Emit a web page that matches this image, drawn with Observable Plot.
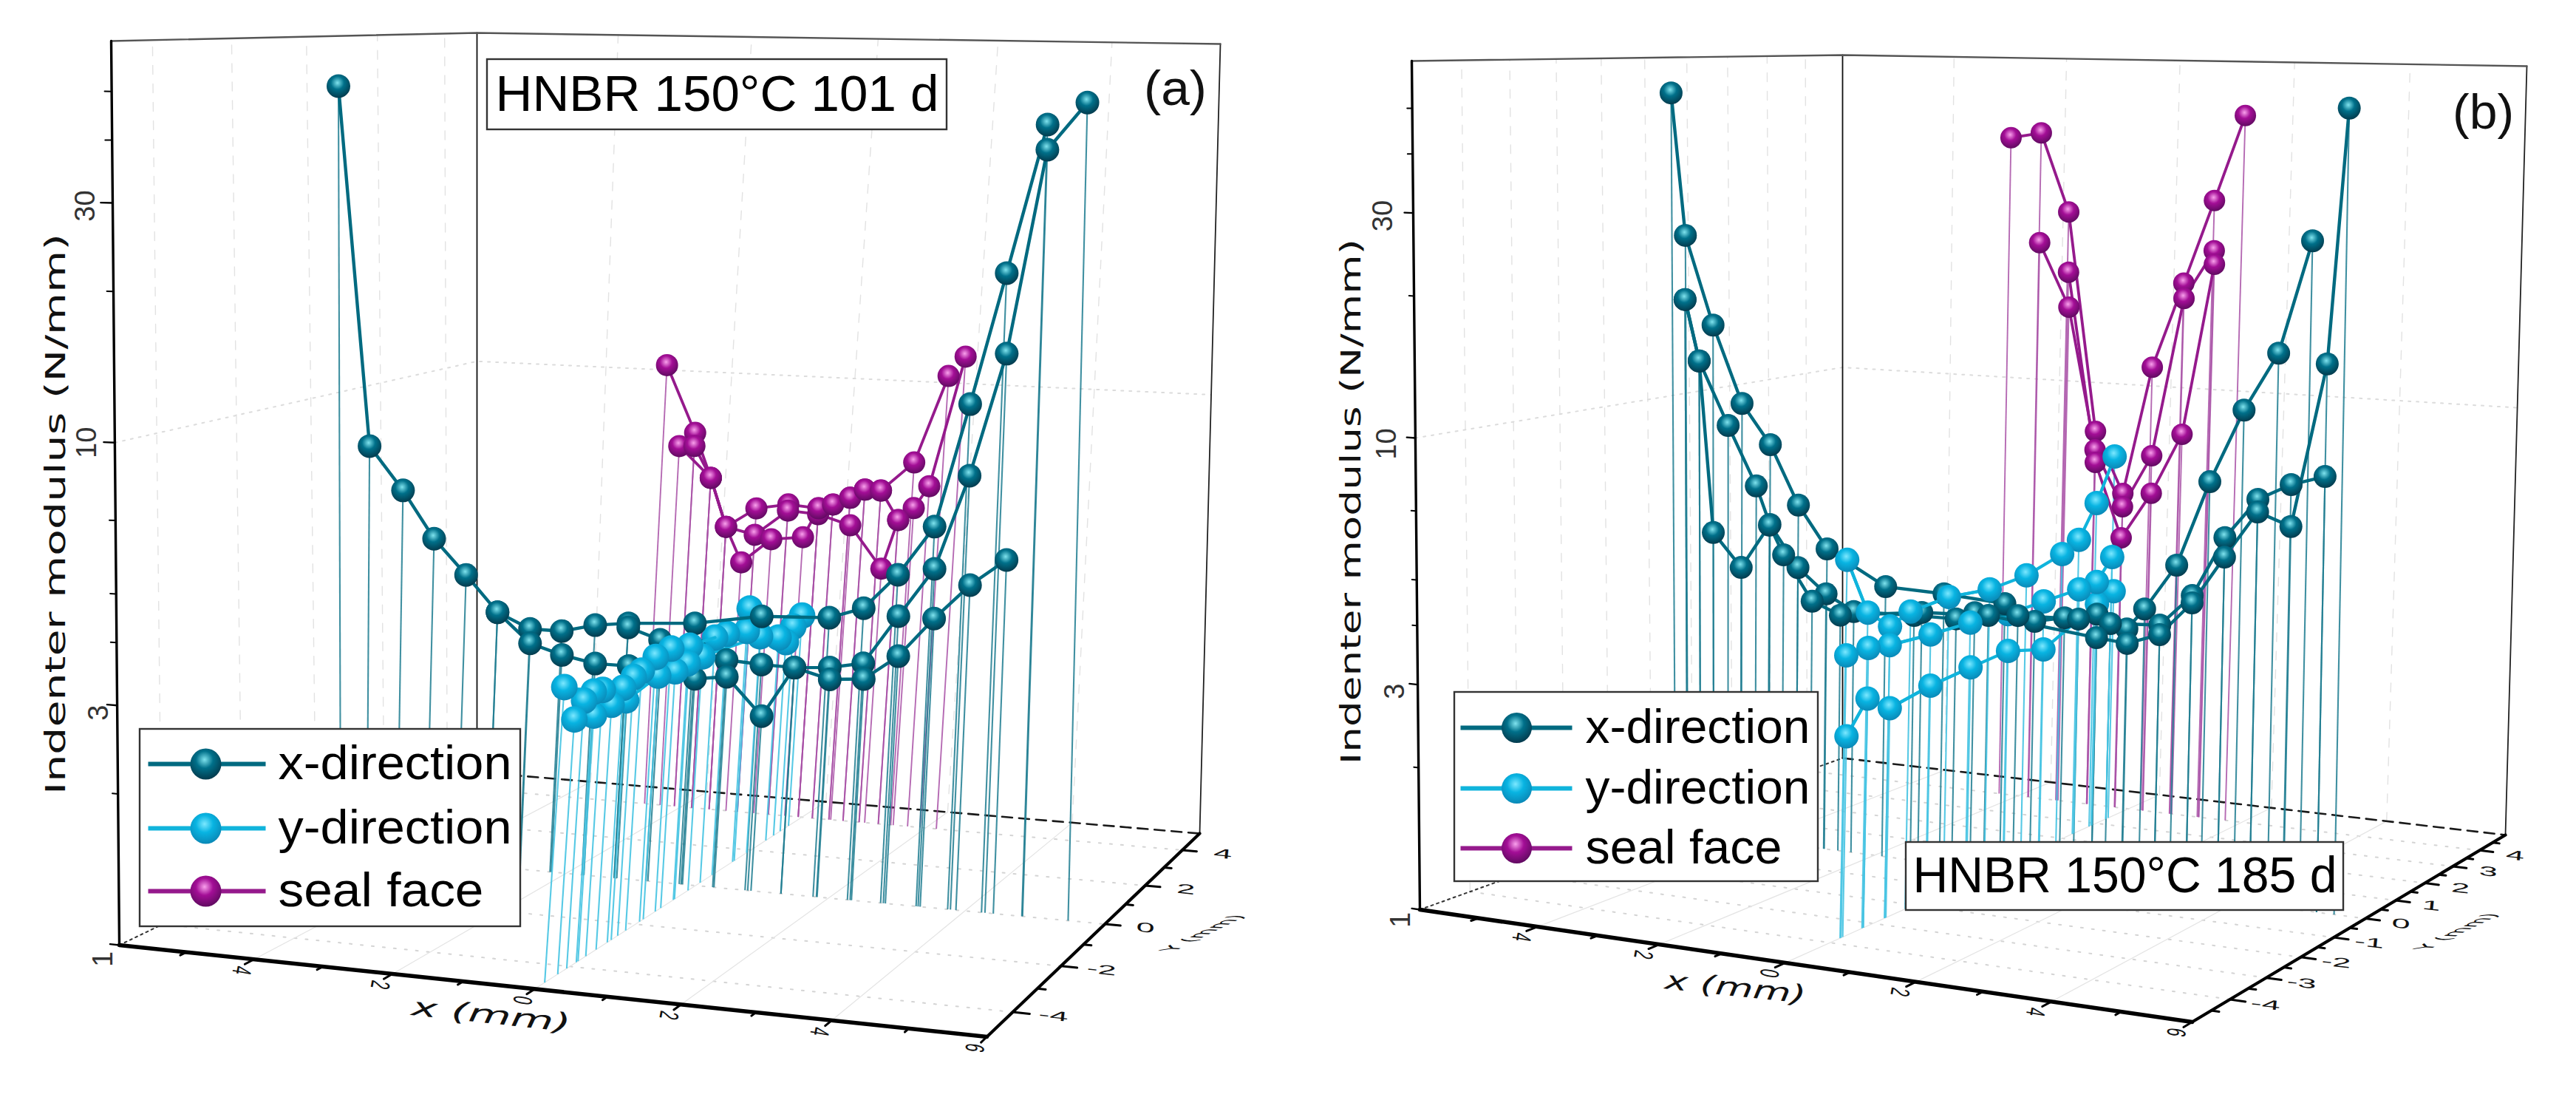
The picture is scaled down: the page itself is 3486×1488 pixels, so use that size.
<!DOCTYPE html>
<html><head><meta charset="utf-8">
<script src="https://cdn.jsdelivr.net/npm/d3@7"></script>
<script src="https://cdn.jsdelivr.net/npm/@observablehq/plot@0.6"></script>
<style>html,body{margin:0;background:#fff}#fig{display:flex;width:3486px;height:1488px}svg{display:block}</style>
</head><body><div id="fig"></div>
<script>
// ---------- data: position (mm) along the scan and indenter modulus (N/mm) ----------
const aXdir1X=[-5.60,-5.17,-4.68,-4.21,-3.72,-3.23,-2.73,-2.25,-1.75,-1.25,-0.25,0.75,1.77,2.28,2.77,3.29,3.75,4.24,4.82];
const aXdir1M=[49.1,7.94,6.40,5.06,4.26,3.57,3.32,3.32,3.46,3.53,3.61,3.82,3.88,4.11,4.88,6.22,11.3,21.3,43.5];
const aXdir2X=[-1.25,-0.76,-0.22,0.26,0.79,1.29,1.82,2.32,2.81,3.32,3.79,4.29,4.83,5.48];
const aXdir2M=[3.46,3.29,3.18,3.05,3.02,3.01,3.05,3.15,4.00,5.08,8.02,14.5,38.6,48.5];
const aXdir3X=[-3.23,-2.72,-2.23,-1.72,-1.21,-0.73,-0.20,0.28,0.84,1.29,1.83,2.34,2.84,3.35,3.87,4.41];
const aXdir3M=[3.57,3.09,2.95,2.86,2.86,2.83,2.75,2.81,2.35,3.01,2.88,2.92,3.30,4.00,4.75,5.42];
const aYdir1Y=[-4.72,-3.81,-3.53,-2.88,-2.56,-2.31,-1.87,-1.36,-0.72,0.16,0.58,1.32,1.38,2.57,3.13,3.46];
const aYdir1M=[3.70,3.40,3.36,3.24,3.33,3.37,3.49,3.51,3.41,3.35,3.32,3.21,3.58,2.86,2.92,3.03];
const aYdir2Y=[-4.35,-4.09,-3.76,-3.22,-2.76,-1.75,-1.18,-0.76,-0.26,1.84,2.87];
const aYdir2M=[3.12,3.33,3.04,3.07,3.03,3.17,3.11,3.14,3.14,3.02,2.74];
const aSeal1X=[-2.61,-2.11,-1.82,-1.53,-1.06,-0.55,-0.06,0.17,0.44,0.67,0.93,1.44,1.91];
const aSeal1M=[10.7,7.48,5.90,4.56,5.08,5.24,5.18,5.31,5.53,5.80,5.80,6.79,10.8];
const aSeal2X=[-2.35,-1.82,-1.53,-1.06,-0.55,-0.06,0.47,1.02,1.24,1.48,1.71,2.17];
const aSeal2M=[6.94,5.90,4.56,4.41,5.07,5.02,4.78,3.84,4.99,5.34,6.02,12.0];
const aSeal3X=[-2.11,-1.82,-1.53,-1.25,-0.79,-0.28,-0.06,0.17,0.44,0.67,0.93,1.24];
const aSeal3M=[6.97,5.90,4.56,3.79,4.33,4.42,5.18,5.31,5.53,5.80,5.80,4.99];

const bXdir1X=[-5.56,-5.33,-4.86,-4.36,-3.87,-3.38,-2.88,-1.87,-0.88,0.14,0.64,1.13,1.66,2.15,2.43,2.93,3.43,3.95,4.48,4.98];
const bXdir1M=[52.3,24.4,15.2,10.1,8.20,6.02,4.84,4.08,4.04,3.95,3.66,3.78,3.91,3.68,4.10,5.18,7.96,11.5,15.4,27.0];
const bXdir2X=[-5.34,-5.10,-4.60,-4.11,-3.87,-3.38,-2.89,-2.41,-1.38,-0.67,-0.36,0.36,1.36,1.88,2.68,3.19,3.69,4.20,4.72,5.25];
const bXdir2M=[17.3,12.5,8.94,6.55,5.37,4.33,3.82,3.53,3.56,3.57,3.72,3.74,3.78,3.75,3.81,4.48,6.06,7.42,8.08,8.51];
const bXdir3X=[-5.34,-5.10,-4.86,-4.37,-3.88,-3.63,-3.13,-2.64,-1.25,-0.13,1.66,2.16,2.68,3.19,3.69,4.20,4.73,5.25,5.52];
const bXdir3M=[17.3,12.5,5.02,4.22,5.35,4.60,3.65,3.44,3.63,3.69,3.47,3.42,3.63,4.32,5.50,6.97,6.57,14.8,52.1];
const bYdir1Y=[-3.77,-3.26,-2.72,-2.22,-1.26,-0.19,0.81,1.81,2.29,2.79,3.30];
const bYdir1M=[6.04,4.56,4.13,4.31,4.38,4.28,4.35,4.61,4.85,5.77,7.26];
const bYdir2Y=[-3.75,-3.23,-2.72,-1.71,-0.69,0.32,1.31,2.33,2.85,3.30];
const bYdir2M=[3.83,3.84,3.77,3.73,3.72,3.66,3.69,3.71,3.75,4.19];
const bYdir3Y=[-3.71,-3.23,-2.69,-1.69,-0.66,0.34,1.33,2.87,3.37];
const bYdir3M=[2.60,3.01,2.77,2.89,2.96,3.02,2.86,3.32,3.46];
const bSeal1X=[-2.35,-1.82,-1.31,-0.75,-0.24,0.22,0.73,1.22,1.71];
const bSeal1M=[40.4,41.7,26.9,7.97,5.71,11.6,18.6,29.5,47.2];
const bSeal2X=[-1.81,-1.27,-0.75,-0.24,0.25,0.74,1.24];
const bSeal2M=[22.5,15.8,7.19,5.30,7.11,17.1,22.4];
const bSeal3X=[-1.29,-0.74,-0.25,0.26,0.77,1.25];
const bSeal3M=[19.2,6.71,4.46,5.78,8.10,20.8];

const legendLabels=["x-direction","y-direction","seal face"];
const modulusTicks=[30,10,3,1];
const modulusMinor=[2,4,5,7,20,40,50];
const xTicks=[-4,-2,0,2,4,6];
const xTickLabels=["4","2","0","2","4","6"];
const xMinor=[-5,-3,-1,1,3,5];
const aYTicks=[-4,-2,0,2,4], aYMinor=[-3,-1,1,3];
const bYTicks=[-4,-3,-2,-1,0,1,2,3,4], bYMinor=[-4.5,-3.5,-2.5,-1.5,-0.5,0.5,1.5,2.5,3.5,4.5];
const backGridX=[-4,-2,0,2,4];

// ---------- styles ----------
const COL={teal:"#006a80",cyan:"#10b4dc",seal:"#951a8c"};
const STEM={teal:"#1f7c90",cyan:"#45c3e2",seal:"#a850a6"};
const GRAD={teal:["#7fe3ee","#00708a","#03384a"],cyan:["#7ce8ff","#08b4e2","#0a86b4"],seal:["#f9a0ec","#a30e96","#5d0a5e"]};
const SANS="Liberation Sans", WIDE="DejaVu Sans";
const ZMAX=63;

// ---------- perspective of the drawn box ----------
function homography(q){const[[x0,y0],[x1,y1],[x2,y2],[x3,y3]]=q;
  const dx1=x1-x2,dx2=x3-x2,sx=x0-x1+x2-x3,dy1=y1-y2,dy2=y3-y2,sy=y0-y1+y2-y3,d=dx1*dy2-dx2*dy1;
  const g=(sx*dy2-dx2*sy)/d,h=(dx1*sy-sx*dy1)/d,a=x1-x0+g*x1,b=x3-x0+h*x3,e=y1-y0+g*y1,f=y3-y0+h*y3;
  return(u,v)=>{const w=g*u+h*v+1;return[(a*u+b*v+x0)/w,(e*u+f*v+y0)/w]}}

const zip=(s,dir,xs,ys,ms)=>ms.map((m,i)=>({s,dir,x:xs===null?0:xs[i],y:ys===null?(dir==="seal"?4:0):ys[i],m}));

const panels=[
 {key:"a",ox:0,
  floor:[[161,1278],[1335,1402],[1623,1127],[645,1044]],top:[[150,55],[1359,70],[1651,59],[645,44]],
  x:[["x1",aXdir1X,aXdir1M],["x2",aXdir2X,aXdir2M],["x3",aXdir3X,aXdir3M]],
  y:[["y1",aYdir1Y,aYdir1M],["y2",aYdir2Y,aYdir2M]],
  seal:[["s1",aSeal1X,aSeal1M],["s2",aSeal2X,aSeal2M],["s3",aSeal3X,aSeal3M]],
  r:{teal:16,cyan:18,seal:15},
  yTicks:aYTicks,yMinor:aYMinor,floorY:[-4,-2,0,2,4],wallY:[-4,-2,0,2,4],
  modOff:[[-37,4],[-38,0],[-25,10],[-22,19]],xOff:[-17,15],yOff:[55,5],
  yTitle:{x:76,y:695,len:759},xTitle:{x:664,y:1373,sx:1.75},yAxisTitle:{x:1628,y:1262},
  legend:{x1:189,x2:704,y1:986,y2:1253,rows:[1033,1120,1205],l1:200,l2:359,c:278,r:21,tx:376,lens:[316,316,278]},
  box:{x1:659,x2:1281,y1:80,y2:175,text:"HNBR 150°C 101 d",len:600},
  tag:{x:1590,y:120,text:"(a)",len:85}},
 {key:"b",ox:1743,
  floor:[[1921,1230],[2966,1382],[3390,1129],[2493,1025]],top:[[1910,82],[2986,100],[3419,89],[2493,74]],
  x:[["x1",bXdir1X,bXdir1M],["x2",bXdir2X,bXdir2M],["x3",bXdir3X,bXdir3M]],
  y:[["y1",bYdir1Y,bYdir1M],["y2",bYdir2Y,bYdir2M],["y3",bYdir3Y,bYdir3M]],
  seal:[["s1",bSeal1X,bSeal1M],["s2",bSeal2X,bSeal2M],["s3",bSeal3X,bSeal3M]],
  r:{teal:15.5,cyan:16.5,seal:14.5},
  yTicks:bYTicks,yMinor:bYMinor,floorY:bYTicks,wallY:bYTicks,
  modOff:[[-41,4],[-39,8],[-31,9],[-26,14]],xOff:[-22,14],yOff:[48,7],
  yTitle:{x:1829,y:678,len:711},xTitle:{x:2348,y:1336,sx:1.55},yAxisTitle:{x:3325,y:1260},
  legend:{x1:1968,x2:2460,y1:936,y2:1192,rows:[984,1066,1147],l1:1976,l2:2127,c:2052,r:20.5,tx:2145,lens:[304,304,266]},
  box:{x1:2579,x2:3171,y1:1139,y2:1231,text:"HNBR 150°C 185 d",len:574},
  tag:{x:3360,y:152,text:"(b)",len:83}}
];

function drawPanel(p){
  const F=homography(p.floor),T=homography(p.top);
  const proj=(x,y,m)=>{const u=(x+6)/12,v=(y+5)/10,a=F(u,v),b=T(u,v),t=Math.log(m)/Math.log(ZMAX);return[a[0]+(b[0]-a[0])*t,a[1]+(b[1]-a[1])*t]};
  const seg=(pts,o)=>Plot.line(pts.map(d=>proj(...d)),{x:d=>d[0],y:d=>d[1],...o});
  const segs=(list,o)=>list.map(pts=>seg(pts,o));

  const xRows=p.x.flatMap(([s,xs,ms])=>zip(s,"teal",xs,null,ms));
  const yRows=p.y.flatMap(([s,ys,ms])=>zip(s,"cyan",null,ys,ms));
  const sRows=p.seal.flatMap(([s,xs,ms])=>zip(s,"seal",xs,null,ms));
  const place=r=>{const[a,b]=proj(r.x,r.y,r.m),[c,d]=proj(r.x,r.y,1);return{...r,sx:a,sy:b,fx:c,fy:d}};
  const X=xRows.map(place),Y=yRows.map(place),S=sRows.map(place);

  const grad=k=>`url(#${k}-${p.key})`;
  const defs=()=>{const d=d3.create("svg:defs");
    for(const k of Object.keys(GRAD)){const g=d.append("radialGradient").attr("id",`${k}-${p.key}`).attr("cx",.46).attr("cy",.36).attr("r",.66);
      [[0,0],[.42,1],[1,2]].forEach(([o,i])=>g.append("stop").attr("offset",o).attr("stop-color",GRAD[k][i]));}
    return d.node()};
  const stems=(rows,k,w,op)=>Plot.link(rows,{x1:"fx",y1:"fy",x2:"sx",y2:"sy",stroke:STEM[k],strokeWidth:w,strokeOpacity:op});
  const line=(rows,k,w)=>Plot.line(rows,{x:"sx",y:"sy",z:"s",stroke:COL[k],strokeWidth:w,strokeLinejoin:"round"});
  const dots=(rows,k)=>Plot.dot(rows,{x:"sx",y:"sy",r:p.r[k],fill:grad(k),stroke:null});

  const tickRows=xTicks.map((x,i)=>{const[a,b]=proj(x,-5,1);return{a:a+p.xOff[0],b:b+p.xOff[1],t:xTickLabels[i]}});
  const yLabelRows=p.yTicks.map(y=>{const[a,b]=proj(6,y,1);return{a:a+p.yOff[0],b:b+p.yOff[1],t:String(y)}});
  const modRows=modulusTicks.map((m,i)=>{const[a,b]=proj(-6,-5,m);return{a:a+p.modOff[i][0],b:b+p.modOff[i][1],t:String(m)}});
  const L=p.legend;
  const legendRows=legendLabels.map((t,i)=>({t,y:L.rows[i],k:["teal","cyan","seal"][i],len:L.lens[i]}));

  const plot=Plot.plot({
    width:1743,height:1488,margin:0,
    x:{domain:[p.ox,p.ox+1743],range:[0,1743],axis:null},
    y:{domain:[0,1488],range:[0,1488],axis:null},
    style:{background:"#fff",overflow:"visible"},
    marks:[
      defs,
      // walls and floor grid
      ...segs(backGridX.map(x=>[[x,5,1],[x,5,ZMAX]]),{stroke:"#e2e2e2",strokeWidth:1.4,strokeDasharray:"12,13"}),
      ...segs(p.wallY.map(y=>[[-6,y,1],[-6,y,ZMAX]]),{stroke:"#e2e2e2",strokeWidth:1.4,strokeDasharray:"12,13"}),
      ...segs(p.floorY.map(y=>[[-6,y,1],[6,y,1]]),{stroke:"#d4d4d4",strokeWidth:2,strokeDasharray:"3,12"}),
      ...segs(backGridX.map(x=>[[x,-5,1],[x,5,1]]),{stroke:"#e4e4e4",strokeWidth:1.2}),
      seg([[-6,-5,10],[-6,5,10],[6,5,10]],{stroke:"#dcdcdc",strokeWidth:2,strokeDasharray:"3,8"}),
      seg([[-6,-5,1],[-6,5,1]],{stroke:"#333",strokeWidth:2,strokeDasharray:"3,5"}),
      seg([[-6,5,1],[6,5,1]],{stroke:"#1a1a1a",strokeWidth:2.6,strokeDasharray:"14,9"}),
      seg([[-6,5,1],[-6,5,ZMAX]],{stroke:"#111",strokeWidth:1.8}),
      seg([[6,5,1],[6,5,ZMAX]],{stroke:"#222",strokeWidth:1.8}),
      seg([[-6,-5,ZMAX],[-6,5,ZMAX],[6,5,ZMAX]],{stroke:"#555",strokeWidth:2.4}),
      // stems
      stems(S,"seal",1.9,.85),stems(X,"teal",2.1,.85),stems(Y,"cyan",2.1,.9),
      // axes
      seg([[-6,-5,1],[-6,-5,ZMAX]],{stroke:"#000",strokeWidth:3.4}),
      seg([[-6,-5,1],[6,-5,1]],{stroke:"#000",strokeWidth:5.5}),
      seg([[6,-5,1],[6,5,1]],{stroke:"#000",strokeWidth:4.2}),
      ...segs(modulusTicks.map(m=>[[-6,-5,m],[-6.14,-5,m]]),{stroke:"#000",strokeWidth:2.4}),
      ...segs(modulusMinor.map(m=>[[-6,-5,m],[-6.08,-5,m]]),{stroke:"#000",strokeWidth:2}),
      ...segs(xTicks.map(x=>[[x,-5,1],[x,-5.22,1]]),{stroke:"#000",strokeWidth:3}),
      ...segs(xMinor.map(x=>[[x,-5,1],[x,-5.14,1]]),{stroke:"#000",strokeWidth:3}),
      ...segs(p.yTicks.map(y=>[[6,y,1],[6.22,y,1]]),{stroke:"#000",strokeWidth:3}),
      ...segs(p.yMinor.map(y=>[[6,y,1],[6.11,y,1]]),{stroke:"#000",strokeWidth:3}),
      // tick labels and axis titles
      Plot.text(modRows,{x:"a",y:"b",text:"t",rotate:-90,fontSize:38,fontFamily:SANS,fill:"#333"}),
      Plot.text(tickRows,{x:"a",y:"b",text:"t",fontSize:36,fontFamily:SANS,fill:"#111",rotate:100,className:"xtick"}),
      Plot.text(yLabelRows,{x:"a",y:"b",text:"t",fontSize:30,fontFamily:SANS,fill:"#111",rotate:6,className:"ytick"}),
      Plot.text([p.yTitle],{x:"x",y:"y",text:()=>"Indenter modulus (N/mm)",rotate:-90,fontSize:37,fontFamily:WIDE,fill:"#111",className:"modtitle"}),
      Plot.text([p.xTitle],{x:"x",y:"y",text:()=>"x (mm)",rotate:6,fontSize:34,fontFamily:WIDE,fontStyle:"italic",fill:"#111",className:"xtitle"}),
      Plot.text([p.yAxisTitle],{x:"x",y:"y",text:()=>"Y (mm)",fontSize:32,fontFamily:WIDE,fill:"#111",className:"ytitle"}),
      // data, back to front
      line(S,"seal",3.8),dots(S,"seal"),
      line(Y,"cyan",4.2),dots(Y.filter(d=>d.y>0).sort((a,b)=>b.y-a.y),"cyan"),
      line(X,"teal",4.4),dots(X,"teal"),
      line(Y.filter(d=>d.y<=0.2),"cyan",4.2),dots(Y.filter(d=>d.y<=0).sort((a,b)=>b.y-a.y),"cyan"),
      // legend
      Plot.rect([L],{x1:"x1",x2:"x2",y1:"y1",y2:"y2",fill:"#fff",stroke:"#333",strokeWidth:2.4}),
      Plot.link(legendRows,{x1:()=>L.l1,x2:()=>L.l2,y1:"y",y2:"y",stroke:d=>COL[d.k],strokeWidth:6}),
      ...legendRows.map(d=>Plot.dot([d],{x:()=>L.c,y:"y",r:L.r,fill:grad(d.k),stroke:null})),
      Plot.text(legendRows,{x:()=>L.tx,y:"y",text:"t",textAnchor:"start",fontSize:64,fontFamily:SANS,fill:"#000",className:"legendtext"}),
      // title box and panel tag
      Plot.rect([p.box],{x1:"x1",x2:"x2",y1:"y1",y2:"y2",fill:"#fff",stroke:"#333",strokeWidth:2.4}),
      Plot.text([p.box],{x:d=>(d.x1+d.x2)/2,y:d=>(d.y1+d.y2)/2,text:"text",fontSize:68,fontFamily:SANS,fill:"#000",className:"boxtext"}),
      Plot.text([p.tag],{x:"x",y:"y",text:"text",fontSize:66,fontFamily:SANS,fill:"#111",className:"tagtext"})
    ]});

  // squeeze text the way the 3-D plane foreshortens it
  const sel=n=>plot.querySelectorAll(`.${n} text, text.${n}`);
  const fit=(n,len)=>sel(n).forEach((t,i)=>{t.setAttribute("textLength",Array.isArray(len)?len[i]:len);t.setAttribute("lengthAdjust","spacingAndGlyphs")});
  const warp=(n,m)=>sel(n).forEach(t=>t.setAttribute("transform",(t.getAttribute("transform")||"")+" "+m));
  fit("modtitle",p.yTitle.len);fit("legendtext",L.lens);fit("boxtext",p.box.len);fit("tagtext",p.tag.len);
  warp("xtick","scale(.55,1)");warp("ytick","scale(1.5,.6)");
  warp("xtitle",`scale(${p.xTitle.sx},1)`);
  warp("ytitle","matrix(.85,-.42,.9,.05,0,0)");
  return plot;
}
const fig=document.getElementById("fig");
panels.forEach(p=>fig.appendChild(drawPanel(p)));
</script></body></html>
